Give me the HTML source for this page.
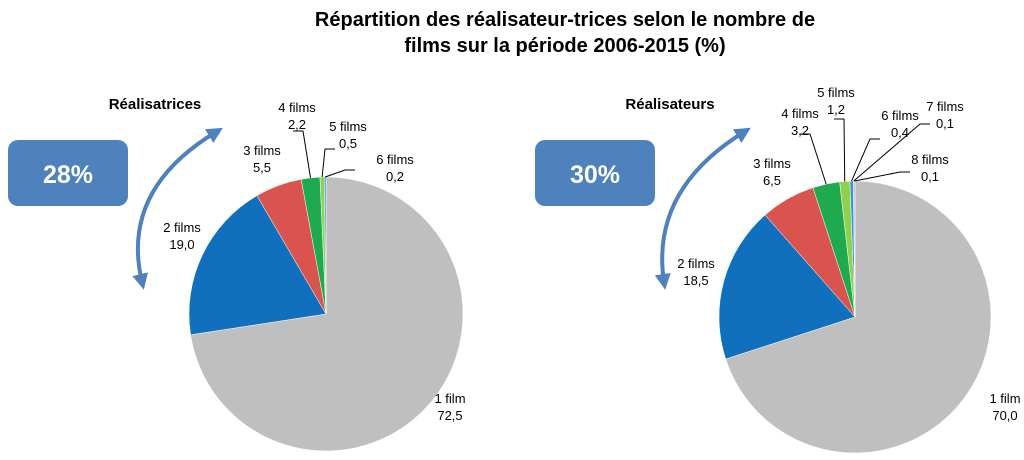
<!DOCTYPE html>
<html><head><meta charset="utf-8"><style>
body{margin:0;background:#fff;width:1024px;height:455px;overflow:hidden;font-family:"Liberation Sans",sans-serif}
svg text{font-family:"Liberation Sans",sans-serif}
</style></head><body>
<svg id="c" width="1024" height="455">
<defs><marker id="ah" viewBox="0 0 10 10" refX="5" refY="5" markerWidth="4" markerHeight="4" orient="auto-start-reverse"><path d="M0,0L10,5L0,10z" fill="#4f81bd"/></marker></defs>
<text x="565" y="26" text-anchor="middle" font-size="20" font-weight="bold">Répartition des réalisateur-trices selon le nombre de</text>
<text x="565" y="52" text-anchor="middle" font-size="20" font-weight="bold">films sur la période 2006-2015 (%)</text>
<text x="155" y="109" text-anchor="middle" font-size="15" font-weight="bold">Réalisatrices</text>
<text x="670" y="109" text-anchor="middle" font-size="15" font-weight="bold">Réalisateurs</text>
<rect x="8" y="140" width="120" height="66" rx="10" fill="#4f81bd"/>
<text x="68" y="183" text-anchor="middle" font-size="25" font-weight="bold" fill="#fff">28%</text>
<rect x="535" y="140" width="120" height="66" rx="10" fill="#4f81bd"/>
<text x="595" y="183" text-anchor="middle" font-size="25" font-weight="bold" fill="#fff">30%</text>
<path d="M216,132 Q120,190 142,282" fill="none" stroke="#4f81bd" stroke-width="4" marker-start="url(#ah)" marker-end="url(#ah)"/>
<path d="M744,132 Q650,190 664,282" fill="none" stroke="#4f81bd" stroke-width="4" marker-start="url(#ah)" marker-end="url(#ah)"/>
</svg>
<script>
const leftCats=["1 film","2 films","3 films","4 films","5 films","6 films"];
const leftVals=[72.5,19.0,5.5,2.2,0.5,0.2];
const rightCats=["1 film","2 films","3 films","4 films","5 films","6 films","7 films","8 films"];
const rightVals=[70.0,18.5,6.5,3.2,1.2,0.4,0.1,0.1];
const colors=["#bfbfbf","#1170bd","#d9534f","#1faa4f","#8fd14f","#2e9be0","#f0a030","#7030a0"];
const NS="http://www.w3.org/2000/svg";
const svg=document.getElementById('c');
function fmt(v){return v.toFixed(1).replace('.',',');}
function pie(cx,cy,r,cats,vals,labelPos,prefix){
  const tot=vals.reduce((a,b)=>a+b,0);
  let a0=0;
  vals.forEach((v,i)=>{
    const a1=a0+v/tot*2*Math.PI;
    const p=(a)=>[cx+r*Math.sin(a),cy-r*Math.cos(a)];
    const [x0,y0]=p(a0),[x1,y1]=p(a1);
    const path=document.createElementNS(NS,'path');
    path.setAttribute('d',`M${cx},${cy}L${x0},${y0}A${r},${r} 0 ${a1-a0>Math.PI?1:0} 1 ${x1},${y1}Z`);
    path.setAttribute('fill',colors[i]);
    path.setAttribute('stroke','#fff');path.setAttribute('stroke-width','0.5');
    
    
    svg.appendChild(path);
    const lp=labelPos[i];
    const am=(a0+a1)/2;
    if(lp[2]){
      const [mx,my]=p(am);
      const l=document.createElementNS(NS,'polyline');
      l.setAttribute('points',`${mx},${my} ${lp[2]},${lp[3]} ${lp[2]+(lp[0]>lp[2]?10:-10)},${lp[3]}`);
      l.setAttribute('fill','none');l.setAttribute('stroke','#000');l.setAttribute('stroke-width','1');
      
      
      svg.appendChild(l);
    }
    const t=document.createElementNS(NS,'text');
    t.setAttribute('x',lp[0]);t.setAttribute('y',lp[1]);
    t.setAttribute('text-anchor','middle');t.setAttribute('font-size','13');
    
    
    const s1=document.createElementNS(NS,'tspan');s1.setAttribute('x',lp[0]);s1.textContent=cats[i];
    const s2=document.createElementNS(NS,'tspan');s2.setAttribute('x',lp[0]);s2.setAttribute('dy','17');s2.textContent=fmt(v);
    t.appendChild(s1);t.appendChild(s2);svg.appendChild(t);
    a0=a1;
  });
}
pie(326,314,137,leftCats,leftVals,[[450,403],[182,232],[262,155,0,0],[297,112,303,131],[348,131,325,149],[395,164,345,170]],'left');
pie(855,317,136,rightCats,rightVals,[[1005,403],[696,268],[772,168],[800,118,810,134],[836,97,844,119],[900,120,870,139],[945,111,920,124],[930,164,900,172]],'right');
</script>
</body></html>
